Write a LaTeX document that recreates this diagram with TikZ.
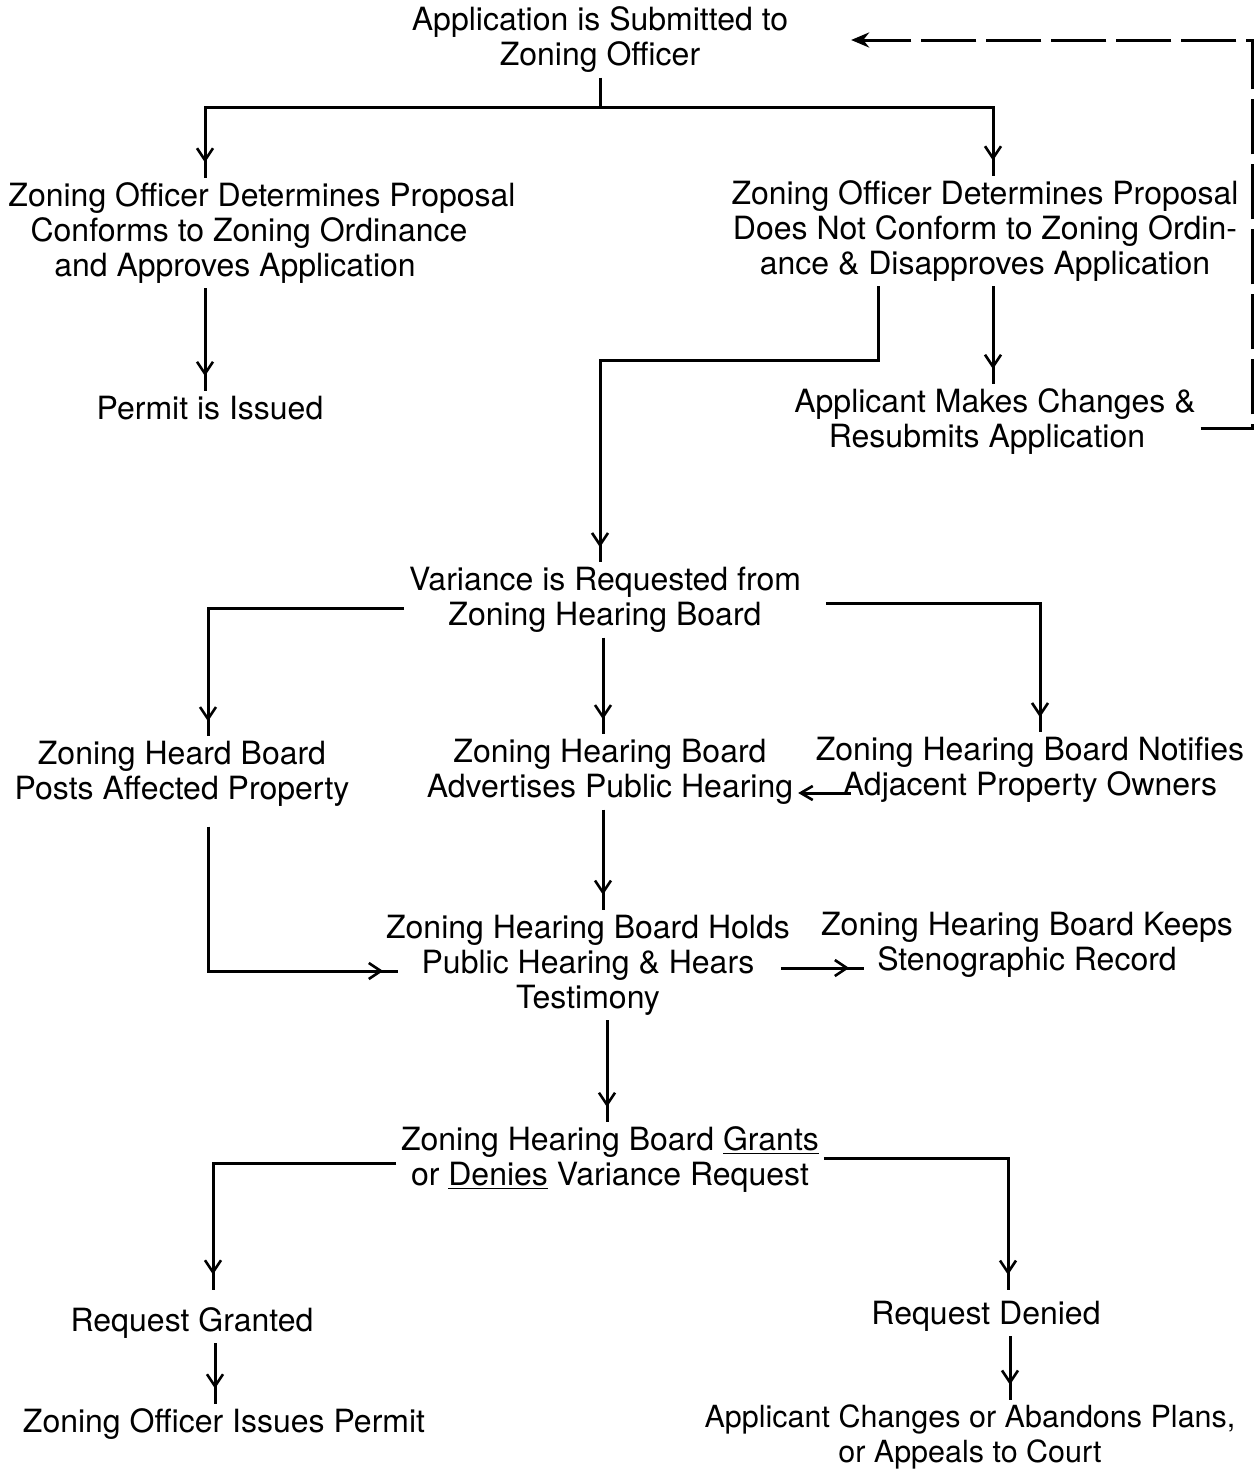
\documentclass[tikz,border=0pt]{standalone}
\usepackage{fontspec}
\setmainfont{TeX Gyre Heros}
\usetikzlibrary{arrows.meta,decorations.markings}
\begin{document}
\begin{tikzpicture}[x=1pt,y=-1pt,
  every node/.style={align=center,inner sep=5pt,outer sep=0pt,font=\fontsize{32}{35}\selectfont},
  ln/.style={line width=3pt},
  arr/.style={ln,postaction={decorate},decoration={markings,mark=at position -15pt with {\arrow{Straight Barb[length=12pt,width=16pt,line width=2.6pt]}}}},
  arrend/.style={ln,-{Straight Barb[length=12pt,width=14pt,line width=2.6pt]}},
  dsh/.style={ln,dash pattern=on 55pt off 10pt,-{Stealth[length=18pt,width=15pt]}}]
\useasboundingbox (0,0) rectangle (1259,1470);

\node (app) at (600,40) {Application is Submitted to\\Zoning Officer};
\node (conf) at (262,233) {Zoning Officer Determines Proposal\\Conforms to Zoning Ordinance\makebox[26pt]{}\\and Approves Application\makebox[54pt]{}};
\node (nconf) at (985,231) {Zoning Officer Determines Proposal\\Does Not Conform to Zoning Ordin-\\ance \& Disapproves Application};
\node (permit) at (210,408) {Permit is Issued};
\node (resub) at (995,422) {Applicant Makes Changes \&\\Resubmits Application\makebox[16pt]{}};
\node (var) at (605,600) {Variance is Requested from\\Zoning Hearing Board};
\node (posts) at (182,774) {Zoning Heard Board\\Posts Affected Property};
\node (adv) at (610,772) {Zoning Hearing Board\\Advertises Public Hearing};
\node (notif) at (1030,770) {Zoning Hearing Board Notifies\\Adjacent Property Owners};
\node (holds) at (588,965) {Zoning Hearing Board Holds\\Public Hearing \& Hears\\Testimony};
\node (steno) at (1027,945) {Zoning Hearing Board Keeps\\Stenographic Record};
\node (grants) at (610,1160) {Zoning Hearing Board \underline{Grants}\\or \underline{Denies} Variance Request};
\node (granted) at (192,1323) {Request Granted};
\node (zoissue) at (224,1424) {Zoning Officer Issues Permit};
\node (denied) at (986,1316) {Request Denied};
\node[font=\fontsize{30.5}{35}\selectfont] (appeal) at (970,1437) {Applicant Changes or Abandons Plans,\\or Appeals to Court};

% connectors
\draw[arr] (app.south) -- (app.south |- 0,107) -| (conf.north -| 205,0);
\draw[arr] (app.south) -- (app.south |- 0,107) -| (nconf.north -| 993,0);
\draw[arr] (conf.south -| 205,0) -- (permit.north -| 205,0);
\draw[arr] (nconf.south -| 878,0) -- (878,360) -| (var.north -| 600,0);
\draw[arr] (nconf.south -| 993,0) -- (resub.north -| 993,0);
\draw[dsh] ([yshift=-6pt]resub.east) -| (1252,40) -- ([xshift=58pt]app.east |- 0,40);
\draw[arr] ([yshift=-8pt]var.west) -| (posts.north -| 208,0);
\draw[arr] ([xshift=20pt,yshift=-3pt]var.east) -| (notif.north -| 1040,0);
\draw[arr] (var.south -| 603,0) -- (adv.north -| 603,0);
\draw[arrend] ([xshift=40pt,yshift=-23pt]notif.west) -- (adv.east |- 0,793);
\draw[arr] ([yshift=-15pt]posts.south -| 208,0) |- ([xshift=17pt,yshift=-6pt]holds.west);
\draw[arr] (adv.south -| 603,0) -- (holds.north -| 603,0);
\draw[arr] ([xshift=-14pt]holds.east |- 0,968) -- ([xshift=48pt]steno.west |- 0,968);
\draw[arr] (holds.south -| 607,0) -- (grants.north -| 607,0);
\draw[arr] ([yshift=-3pt]grants.west) -| ([yshift=13pt]granted.north -| 213,0);
\draw[arr] ([yshift=2pt]grants.east) -| ([yshift=6pt]denied.north -| 1008,0);
\draw[arr] (granted.south -| 215,0) -- (zoissue.north -| 215,0);
\draw[arr] (denied.south -| 1010,0) -- (appeal.north -| 1010,0);
\end{tikzpicture}
\end{document}
